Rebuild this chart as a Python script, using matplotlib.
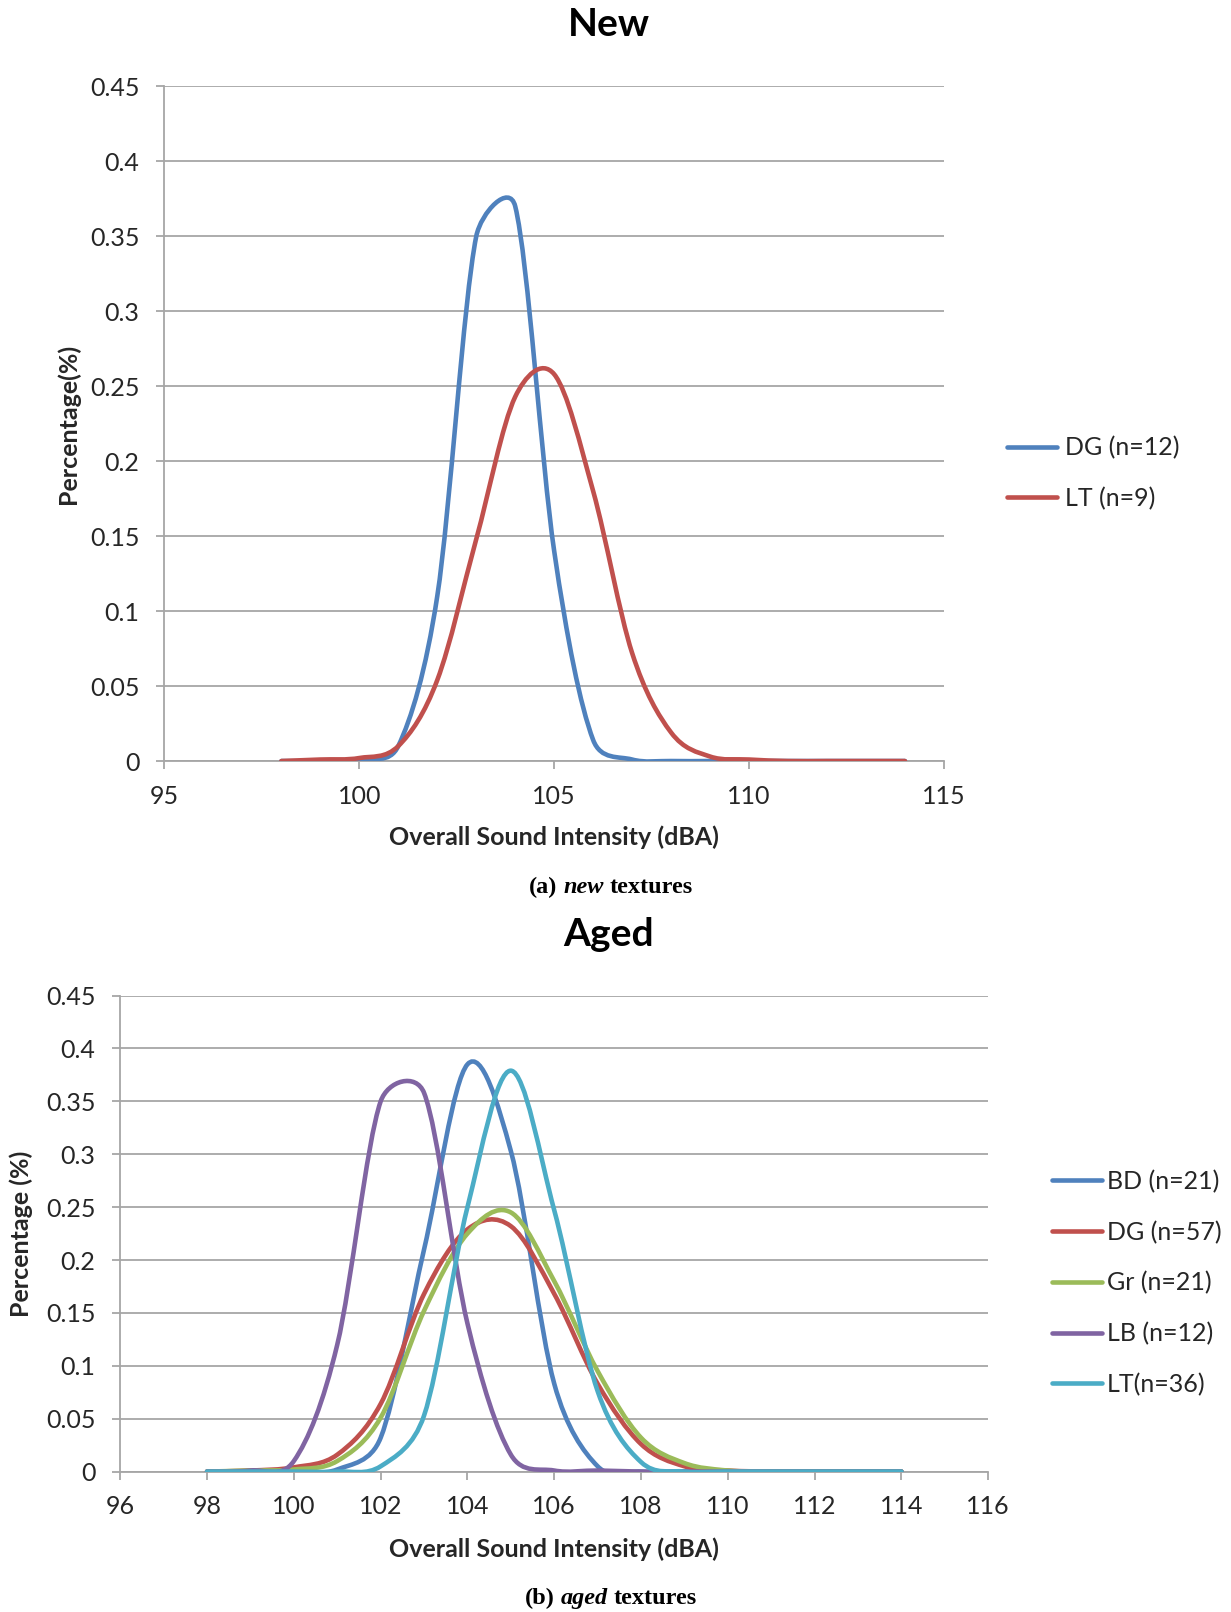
import numpy as np
import matplotlib
matplotlib.use("Agg")
import matplotlib.pyplot as plt
from matplotlib.path import Path
from matplotlib.patches import PathPatch
from matplotlib.lines import Line2D
from matplotlib.offsetbox import TextArea, HPacker, AnchoredOffsetbox

# sound intensity (dBA), one point per dB
intensity = list(range(98, 115))

# (a) new textures
new_labels = ["DG (n=12)", "LT (n=9)"]
new_dg = [0, 0, 0.001, 0.01, 0.11, 0.35, 0.37, 0.14, 0.014, 0.001, 0, 0, 0, 0, 0, 0, 0]
new_lt = [0, 0.001, 0.002, 0.01, 0.054, 0.148, 0.243, 0.258, 0.18, 0.072, 0.019, 0.003, 0.001, 0, 0, 0, 0]

# (b) aged textures
aged_labels = ["BD (n=21)", "DG (n=57)", "Gr (n=21)", "LB (n=12)", "LT(n=36)"]
aged_bd = [0, 0, 0, 0.002, 0.032, 0.21, 0.385, 0.303, 0.083, 0.005, 0, 0, 0, 0, 0, 0, 0]
aged_dg = [0, 0.001, 0.004, 0.016, 0.064, 0.168, 0.229, 0.232, 0.168, 0.083, 0.026, 0.005, 0.001, 0, 0, 0, 0]
aged_gr = [0, 0.001, 0.002, 0.01, 0.051, 0.152, 0.225, 0.245, 0.18, 0.095, 0.032, 0.008, 0.001, 0, 0, 0, 0]
aged_lb = [0, 0.001, 0.01, 0.12, 0.35, 0.358, 0.14, 0.016, 0.001, 0.001, 0, 0, 0, 0, 0, 0, 0]
aged_lt = [0, 0, 0, 0, 0.005, 0.053, 0.25, 0.379, 0.247, 0.076, 0.009, 0, 0, 0, 0, 0, 0]

y_ticks = [0, 0.05, 0.1, 0.15, 0.2, 0.25, 0.3, 0.35, 0.4, 0.45]
y_tick_labels = ["0", "0.05", "0.1", "0.15", "0.2", "0.25", "0.3", "0.35", "0.4", "0.45"]
new_x_ticks = [95, 100, 105, 110, 115]
aged_x_ticks = [96, 98, 100, 102, 104, 106, 108, 110, 112, 114, 116]

BLUE, RED, GREEN, PURPLE, CYAN = "#4F81BD", "#C0504D", "#9BBB59", "#8064A2", "#4BACC6"
GRID = "#a6a6a6"
TXT = "#262626"
SANS = "Lato"
SERIF = "Liberation Serif"
LW = 3.3
FS = 18


def excel_smooth(ax, xs, ys, color):
    # excel style smoothed line: bezier segments, handles limited to half a segment
    pts = ax.transData.transform(np.column_stack([xs, ys]))
    n = len(pts)
    verts = [pts[0]]
    codes = [Path.MOVETO]
    for i in range(n - 1):
        p0 = pts[max(i - 1, 0)]
        p1 = pts[i]
        p2 = pts[i + 1]
        p3 = pts[min(i + 2, n - 1)]
        d12 = np.hypot(*(p2 - p1))
        d02 = np.hypot(*(p2 - p0))
        d13 = np.hypot(*(p3 - p1))
        f1 = min(1 / 6, d12 / (2 * d02)) if d02 > 0 else 0
        f2 = min(1 / 6, d12 / (2 * d13)) if d13 > 0 else 0
        verts += [p1 + (p2 - p0) * f1, p2 - (p3 - p1) * f2, p2]
        codes += [Path.CURVE4] * 3
    verts = ax.transData.inverted().transform(np.array(verts))
    ax.add_patch(PathPatch(Path(verts, codes), fill=False, edgecolor=color,
                           lw=LW, capstyle="round", joinstyle="round", zorder=3))


def style_axes(ax, xticks, xlim, ylabel, xlab_y, ylab_x):
    ax.set_xlim(*xlim)
    ax.set_ylim(0, 0.45)
    ax.set_xticks(xticks)
    ax.set_yticks(y_ticks)
    ax.set_yticklabels(y_tick_labels)
    for s in ["top", "right"]:
        ax.spines[s].set_visible(False)
    for s in ["left", "bottom"]:
        ax.spines[s].set_color(GRID)
        ax.spines[s].set_linewidth(1.3)
    ax.grid(axis="y", color=GRID, lw=1.3)
    ax.set_axisbelow(True)
    ax.tick_params(axis="both", colors=GRID, labelcolor=TXT, labelsize=FS,
                   length=6, width=1.3)
    ax.tick_params(axis="x", pad=11)
    ax.tick_params(axis="y", pad=12)
    for t in ax.get_xticklabels() + ax.get_yticklabels():
        t.set_family(SANS)
    ax.set_xlabel("Overall Sound Intensity (dBA)", family=SANS, weight="bold",
                  fontsize=FS, color=TXT, va="center")
    ax.xaxis.set_label_coords(0.5, xlab_y)
    ax.set_ylabel(ylabel, family=SANS, weight="bold", fontsize=FS, color=TXT, va="center")
    ax.yaxis.set_label_coords(ylab_x, 0.5)


def caption(fig, y, tag, word):
    props = dict(family=SERIF, weight="bold", size=17.5, color="black")
    parts = [TextArea(tag, textprops=props),
             TextArea(word, textprops=dict(props, style="italic")),
             TextArea("textures", textprops=props)]
    box = HPacker(children=parts, align="baseline", pad=0, sep=4.5)
    fig.add_artist(AnchoredOffsetbox(loc="center", child=box, frameon=False, pad=0,
                                     borderpad=0, bbox_to_anchor=(0.4963, y),
                                     bbox_transform=fig.transFigure))


fig = plt.figure(figsize=(12.31, 16.12), dpi=100)

# top: new
ax1 = fig.add_axes([0.1336, 0.5279, 0.6332, 0.4185])
style_axes(ax1, new_x_ticks, (95, 115), "Percentage(%)", -0.113, -0.124)
excel_smooth(ax1, intensity, new_dg, BLUE)
excel_smooth(ax1, intensity, new_lt, RED)
h1 = [Line2D([], [], color=c, lw=LW, solid_capstyle="round") for c in [BLUE, RED]]
fig.legend(h1, new_labels, loc="center left", bbox_to_anchor=(0.808, 1 - 473 / 1612),
           frameon=False, prop=dict(family=SANS, size=FS), handlelength=2.0,
           handletextpad=0.3, labelspacing=1.1, labelcolor=TXT, borderpad=0)
fig.text(0.4947, 0.985, "New", family=SANS, weight="bold", fontsize=28,
         ha="center", va="center", color="black")
caption(fig, 0.4497, "(a)", "new")

# bottom: aged
ax2 = fig.add_axes([0.0977, 0.0871, 0.7051, 0.2953])
style_axes(ax2, aged_x_ticks, (96, 116), "Percentage (%)", -0.163, -0.1144)
for series, c in zip([aged_bd, aged_dg, aged_gr, aged_lb, aged_lt],
                     [BLUE, RED, GREEN, PURPLE, CYAN]):
    excel_smooth(ax2, intensity, series, c)
h2 = [Line2D([], [], color=c, lw=LW, solid_capstyle="round")
      for c in [BLUE, RED, GREEN, PURPLE, CYAN]]
fig.legend(h2, aged_labels, loc="center left", bbox_to_anchor=(0.8445, 1 - 1283 / 1612),
           frameon=False, prop=dict(family=SANS, size=FS), handlelength=2.0,
           handletextpad=0.2, labelspacing=1.1, labelcolor=TXT, borderpad=0)
fig.text(0.4946, 0.4203, "Aged", family=SANS, weight="bold", fontsize=28,
         ha="center", va="center", color="black")
caption(fig, 0.0085, "(b)", "aged")

fig.savefig("out.png", dpi=100)
